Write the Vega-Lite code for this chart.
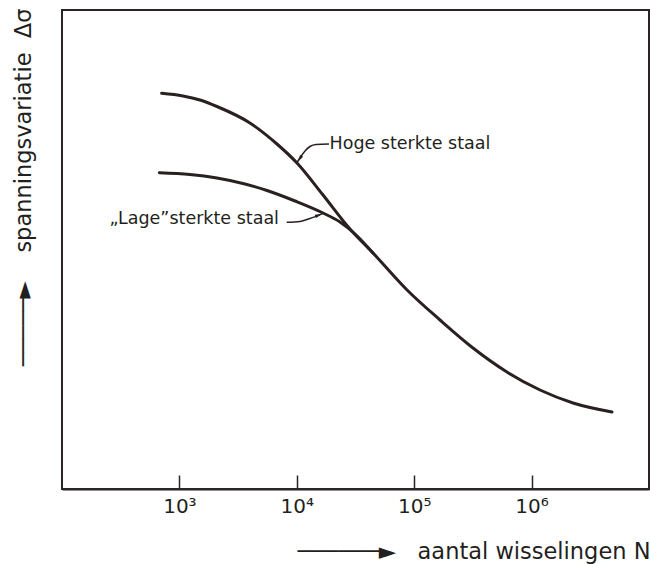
{
  "$schema": "https://vega.github.io/schema/vega-lite/v6.json",
  "width": 587,
  "height": 479,
  "autosize": {"type": "none"},
  "padding": {"left": 62, "top": 10, "right": 1, "bottom": 75},
  "background": "white",
  "config": {
    "view": {"stroke": "#2a2424", "strokeWidth": 2},
    "font": "DejaVu Sans"
  },
  "datasets": {
    "curves": [
      {"serie": "Hoge", "N": 706, "v": 395.7},
      {"serie": "Hoge", "N": 1072, "v": 393},
      {"serie": "Hoge", "N": 1496, "v": 389},
      {"serie": "Hoge", "N": 2089, "v": 382.5},
      {"serie": "Hoge", "N": 3990, "v": 366},
      {"serie": "Hoge", "N": 6776, "v": 345},
      {"serie": "Hoge", "N": 10040, "v": 326},
      {"serie": "Hoge", "N": 16720, "v": 294},
      {"serie": "Hoge", "N": 28380, "v": 260},
      {"serie": "Hoge", "N": 44570, "v": 236},
      {"serie": "Hoge", "N": 86900, "v": 199},
      {"serie": "Hoge", "N": 165950, "v": 169},
      {"serie": "Hoge", "N": 316900, "v": 141},
      {"serie": "Hoge", "N": 616600, "v": 117},
      {"serie": "Hoge", "N": 1180000, "v": 99},
      {"serie": "Hoge", "N": 2254000, "v": 86},
      {"serie": "Hoge", "N": 4842000, "v": 77},
      {"serie": "Lage", "N": 675, "v": 316.3},
      {"serie": "Lage", "N": 1230, "v": 314.5},
      {"serie": "Lage", "N": 2089, "v": 311},
      {"serie": "Lage", "N": 3622, "v": 305},
      {"serie": "Lage", "N": 5572, "v": 298.5},
      {"serie": "Lage", "N": 9660, "v": 288},
      {"serie": "Lage", "N": 16720, "v": 276},
      {"serie": "Lage", "N": 23330, "v": 267},
      {"serie": "Lage", "N": 31330, "v": 255},
      {"serie": "Lage", "N": 44570, "v": 236}
    ],
    "leaders": [
      {"leader": "Hoge", "N": 9977, "v": 326},
      {"leader": "Hoge", "N": 11750, "v": 338},
      {"leader": "Hoge", "N": 12940, "v": 342.5},
      {"leader": "Hoge", "N": 14590, "v": 344.5},
      {"leader": "Hoge", "N": 18800, "v": 345},
      {"leader": "Lage", "N": 8204, "v": 266.7},
      {"leader": "Lage", "N": 10640, "v": 267.5},
      {"leader": "Lage", "N": 12940, "v": 270.5},
      {"leader": "Lage", "N": 16720, "v": 275.7}
    ],
    "arrows": [
      {"leader": "Hoge", "N": 10540, "v": 330},
      {"leader": "Lage", "N": 15450, "v": 274}
    ],
    "labels": [
      {"leader": "Hoge", "N": 19000, "v": 345, "label": "Hoge sterkte staal"},
      {"leader": "Lage", "N": 7050, "v": 270, "label": "„Lage”sterkte staal"}
    ]
  },
  "encoding": {
    "x": {
      "field": "N",
      "type": "quantitative",
      "scale": {"type": "log", "domain": [100, 10000000], "nice": false},
      "axis": {
        "values": [1000, 10000, 100000, 1000000],
        "labelExpr": "datum.value == 1000 ? '10³' : datum.value == 10000 ? '10⁴' : datum.value == 100000 ? '10⁵' : '10⁶'",
        "tickSize": -14,
        "tickColor": "#2a2424",
        "tickWidth": 1.5,
        "domainColor": "#2a2424",
        "domainWidth": 2,
        "grid": false,
        "labelFontSize": 20,
        "labelColor": "#231f20",
        "labelPadding": 21,
        "labelFlush": false,
        "title": "──────►\u00a0\u00a0\u00a0aantal wisselingen N",
        "titleFontSize": 22.5,
        "titleFontWeight": "normal",
        "titleColor": "#231f20",
        "titleAnchor": "end",
        "titleAlign": "right",
        "titleX": 588,
        "titleY": 62,
        "titleBaseline": "middle"
      }
    },
    "y": {
      "field": "v",
      "type": "quantitative",
      "scale": {"domain": [0, 479], "nice": false, "zero": false},
      "axis": {
        "labels": false,
        "ticks": false,
        "domain": false,
        "grid": false,
        "title": "─────►\u00a0\u00a0\u00a0\u00a0spanningsvariatie\u00a0\u00a0Δσ",
        "titleFontSize": 22.5,
        "titleFontWeight": "normal",
        "titleColor": "#231f20",
        "titleAngle": -90,
        "titleAlign": "right",
        "titleBaseline": "middle",
        "titleX": -39,
        "titleY": -2
      }
    }
  },
  "layer": [
    {
      "data": {"name": "curves"},
      "mark": {"type": "line", "interpolate": "monotone", "color": "#2a2020", "strokeWidth": 3, "strokeCap": "round"},
      "encoding": {"detail": {"field": "serie"}}
    },
    {
      "data": {"name": "leaders"},
      "mark": {"type": "line", "interpolate": "monotone", "color": "#2a2020", "strokeWidth": 1.5},
      "encoding": {"detail": {"field": "leader"}}
    },
    {
      "data": {"name": "arrows"},
      "transform": [{"filter": "datum.leader == 'Hoge'"}],
      "mark": {"type": "point", "shape": "M0,-1L0.45,1L-0.45,1Z", "filled": true, "color": "#2a2020", "size": 60, "angle": 215, "opacity": 1}
    },
    {
      "data": {"name": "arrows"},
      "transform": [{"filter": "datum.leader == 'Lage'"}],
      "mark": {"type": "point", "shape": "M0,-1L0.45,1L-0.45,1Z", "filled": true, "color": "#2a2020", "size": 60, "angle": 70, "opacity": 1}
    },
    {
      "data": {"name": "labels"},
      "transform": [{"filter": "datum.leader == 'Hoge'"}],
      "mark": {"type": "text", "align": "left", "baseline": "middle", "fontSize": 17.5, "color": "#231f20"},
      "encoding": {"text": {"field": "label"}}
    },
    {
      "data": {"name": "labels"},
      "transform": [{"filter": "datum.leader == 'Lage'"}],
      "mark": {"type": "text", "align": "right", "baseline": "middle", "fontSize": 17.5, "color": "#231f20"},
      "encoding": {"text": {"field": "label"}}
    }
  ]
}
